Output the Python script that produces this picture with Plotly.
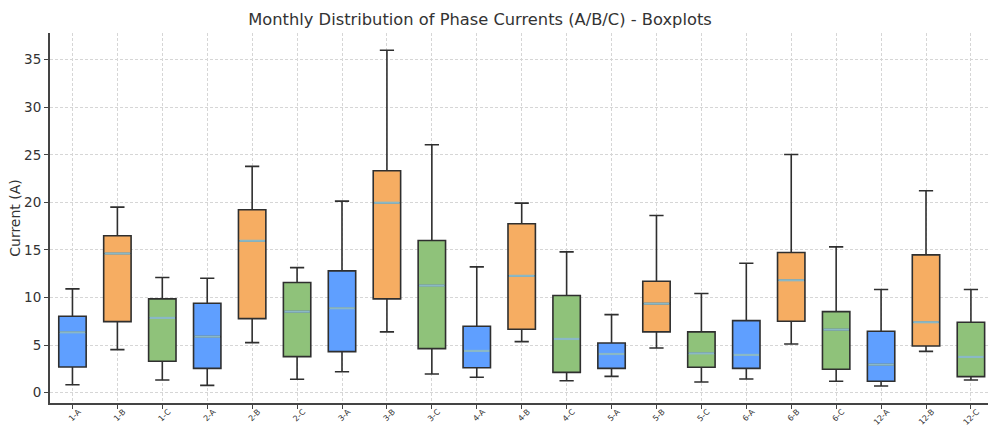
import plotly.graph_objects as go

labels = ["1-A","1-B","1-C","2-A","2-B","2-C","3-A","3-B","3-C","4-A","4-B","4-C",
          "5-A","5-B","5-C","6-A","6-B","6-C","12-A","12-B","12-C"]
phases = ["A","B","C"] * 7
upper  = [10.91,19.50,12.10,12.03,23.78,13.15,20.13,35.98,26.06,13.22,19.92,14.80,
          8.21,18.62,10.42,13.61,25.04,15.33,10.84,21.22,10.84]
q3     = [8.04,16.49,9.86,9.40,19.22,11.58,12.80,23.32,15.99,6.98,17.75,10.21,
          5.23,11.72,6.39,7.58,14.73,8.52,6.46,14.49,7.41]
median = [6.35,14.63,7.86,5.89,15.96,8.52,8.88,19.96,11.26,4.39,12.28,5.65,
          4.07,9.36,4.14,3.97,11.82,6.63,2.95,7.41,3.76]
q1     = [2.70,7.47,3.30,2.56,7.79,3.79,4.32,9.86,4.63,2.63,6.67,2.14,
          2.56,6.39,2.67,2.56,7.51,2.46,1.20,4.91,1.69]
lower  = [0.84,4.53,1.34,0.77,5.26,1.41,2.21,6.39,1.97,1.62,5.37,1.26,
          1.72,4.70,1.13,1.44,5.12,1.20,0.70,4.35,1.34]

colors = {"A": "#5f9fff", "B": "#f6ad62", "C": "#8fc27a"}
BOX_W = 0.61
EDGE = "#2f2f2f"
MED = "#8ab8c6"

fig = go.Figure()
for ph in ["A", "B", "C"]:
    idx = [i for i, p in enumerate(phases) if p == ph]
    fig.add_trace(go.Box(
        x=idx,
        q1=[q1[i] for i in idx], median=[median[i] for i in idx], q3=[q3[i] for i in idx],
        lowerfence=[lower[i] for i in idx], upperfence=[upper[i] for i in idx],
        fillcolor=colors[ph], line=dict(color=EDGE, width=1.6),
        width=BOX_W, whiskerwidth=0.52, boxpoints=False, showlegend=False,
        hoverinfo="skip",
    ))

mx, my = [], []
for i, m in enumerate(median):
    mx += [i - BOX_W / 2 + 0.02, i + BOX_W / 2 - 0.02, None]
    my += [m, m, None]
fig.add_trace(go.Scatter(x=mx, y=my, mode="lines", line=dict(color=MED, width=2.2),
                         showlegend=False, hoverinfo="skip"))

axis_common = dict(
    showgrid=True, gridcolor="#d6d6d6", gridwidth=0.8, griddash="3px,2px",
    showline=True, linecolor="#444444", linewidth=2,
    ticks="outside", ticklen=4, tickwidth=1, tickcolor="#444444",
    zeroline=False,
)

fig.update_layout(
    width=988, height=427,
    margin=dict(l=50, r=0, t=33, b=24, autoexpand=False),
    paper_bgcolor="white", plot_bgcolor="white",
    boxmode="overlay",
    font=dict(family="DejaVu Sans", color="#333333"),
    title=dict(text="Monthly Distribution of Phase Currents (A/B/C) - Boxplots",
               xref="container", yref="container", x=480 / 988, y=1 - 19 / 427,
               xanchor="center", yanchor="middle",
               font=dict(size=16.3, color="#333333", family="DejaVu Sans")),
    xaxis=dict(range=[-0.5, 20.38], tickmode="array", tickvals=list(range(len(labels))),
               ticktext=labels, tickangle=-45, tickfont=dict(size=8, color="#333333"),
               ticklabelstandoff=-5, ticklabelshift=6,
               automargin=False, **axis_common),
    yaxis=dict(range=[-1.08, 37.8], tickmode="array", tickvals=[0, 5, 10, 15, 20, 25, 30, 35],
               tickfont=dict(size=13.5, color="#333333"),
               title=dict(text="Current (A)", font=dict(size=14, color="#333333"), standoff=0),
               automargin=False, **axis_common),
)

fig.write_html("out.html")
